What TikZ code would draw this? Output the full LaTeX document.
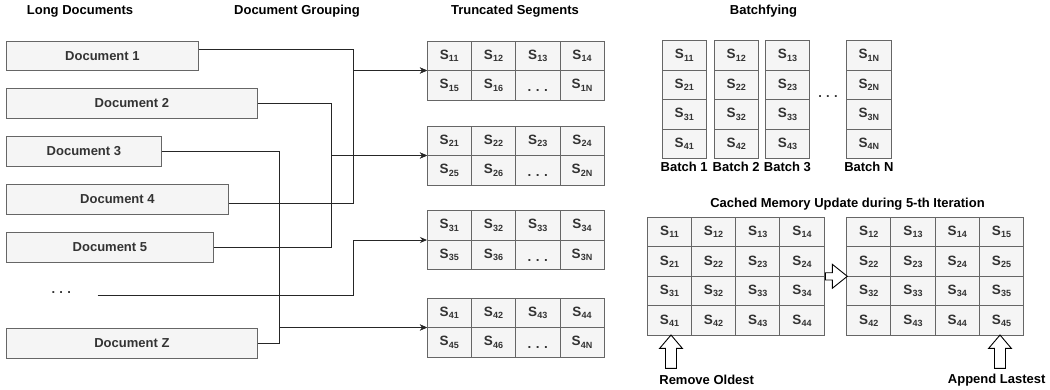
\documentclass[tikz,border=0pt]{standalone}
\usepackage{fontspec}
\setmainfont{Liberation Sans}
\usetikzlibrary{arrows.meta}
\definecolor{cfill}{HTML}{F5F5F5}
\definecolor{cdraw}{HTML}{666666}
\definecolor{ctext}{HTML}{333333}
\newcommand\sg[1]{S\kern0.2pt\raisebox{-2.4pt}{\fontsize{9}{9}\selectfont #1}}
\newcommand\celldots{\rule{0pt}{13pt}.\,\,.\,\,.}
\begin{document}
\begin{tikzpicture}[x=1pt,y=-1pt,
  doc/.style={draw=cdraw, fill=cfill, text=ctext, font=\fontsize{13}{15}\selectfont\bfseries, minimum height=29.6pt, inner sep=0, anchor=north west, line width=0.8pt},
  cell/.style={draw=cdraw, fill=cfill, text=ctext, font=\fontsize{13.5}{15}\selectfont\bfseries, minimum width=44.3pt, minimum height=29.5pt, inner sep=0, line width=0.8pt},
  title/.style={font=\fontsize{13}{15}\selectfont\bfseries, inner sep=0},
  conn/.style={draw=black!85, line width=0.9pt},
  arr/.style={conn, -{Stealth[length=7pt,width=6pt]}},
  hollow/.style={draw=black, fill=white, line width=0.9pt, line join=miter}
]
\useasboundingbox (0,0) rectangle (1050,389);

% titles
\node[title] (tLD) at (80,11) {Long Documents};
\node[title] (tDG) at (297,11) {Document Grouping};
\node[title] (tTS) at (515,11) {Truncated Segments};
\node[title] (tBF) at (763.5,11) {Batchfying};
\node[title] (tCM) at (847.5,204) {Cached Memory Update during 5-th Iteration};
\node[title] (tRO) at (706.7,380) {Remove Oldest};
\node[title] (tAL) at (996.7,380) {Append Lastest};

% documents
\node[doc, minimum width=192pt] (d1) at (6,40.7) {Document 1};
\node[doc, minimum width=251pt] (d2) at (6,88.3) {Document 2};
\node[doc, minimum width=155pt] (d3) at (6,136.3) {Document 3};
\node[doc, minimum width=222pt] (d4) at (6,184.3) {Document 4};
\node[doc, minimum width=207pt] (d5) at (6,232.3) {Document 5};
\node[font=\fontsize{13}{15}\selectfont\bfseries, text=ctext, minimum width=72pt, inner sep=0] (dd) at (61.3,293) {.\,\,.\,\,.};
\node[doc, minimum width=251pt] (dz) at (6,328.3) {Document Z};

% truncated segment tables
\foreach \k/\top in {1/41,2/126,3/210.5,4/298}{
  \coordinate (t\k w) at (427,\top+29.5);
}
\foreach \k/\top in {1/41,2/126,3/210.5,4/298}{
  \foreach \c in {1,2,3,4}{
    \pgfmathtruncatemacro{\a}{\c}
    \node[cell] (t\k-1-\c) at (449.15+44.3*\c-44.3,\top+14.75) {\sg{\k\a}};
  }
  \node[cell] (t\k-2-1) at (449.15,\top+44.25) {\sg{\k5}};
  \node[cell] (t\k-2-2) at (493.45,\top+44.25) {\sg{\k6}};
  \node[cell] (t\k-2-3) at (537.75,\top+44.25) {\celldots};
  \node[cell] (t\k-2-4) at (582.05,\top+44.25) {\sg{\k N}};
}

% connectors
\draw[arr] ([yshift=6.8pt]d1.east) -| ([xshift=-74pt]t1w) -- (t1w);
\draw[arr] ([yshift=-4pt]d4.east) -| ([xshift=-74pt]t1w) -- (t1w);
\draw[arr] (d2.east) -| ([xshift=-96pt]t2w) -- (t2w);
\draw[arr] (d5.east) -| ([xshift=-96pt]t2w) -- (t2w);
\draw[arr] ([yshift=-2pt]dd.east) -| ([xshift=-74pt]t3w) -- (t3w);
\draw[arr] (d3.east) -| ([xshift=-148pt]t4w) -- (t4w);
\draw[arr] (dz.east) -| ([xshift=-148pt]t4w) -- (t4w);

% batches
\foreach \c/\x/\lab in {1/662/1,2/714/2,3/765.3/3}{
  \foreach \r in {1,2,3,4}{
    \node[cell] (b\c-\r) at (\x+22.15,40.7+14.75+29.5*\r-29.5) {\sg{\r\c}};
  }
  \node[title] (bl\c) at (\x+22.15,166.7) {Batch \lab};
}
\foreach \r in {1,2,3,4}{
  \node[cell] (bN-\r) at (868.85,40.7+14.75+29.5*\r-29.5) {\sg{\r N}};
}
\node[title] (blN) at (868.85,166.7) {Batch N};
\node[font=\fontsize{13}{15}\selectfont\bfseries, text=ctext, inner sep=0] (bdots) at (828,97) {.\,\,.\,\,.};

% cached memory
\foreach \r in {1,2,3,4}{
  \foreach \c in {1,2,3,4}{
    \pgfmathtruncatemacro{\cc}{\c+1}
    \node[cell] (m\r-\c) at (647.3+22.1+44.2*\c-44.2,217.3+14.75+29.5*\r-29.5) {\sg{\r\c}};
    \node[cell] (n\r-\c) at (846.7+22.1+44.2*\c-44.2,217.3+14.75+29.5*\r-29.5) {\sg{\r\cc}};
  }
}

% hollow arrows
\draw[hollow] (825.3,272.7) -- (832.3,272.7) -- (832.3,264.3) -- (847.3,276.3) -- (832.3,288.3) -- (832.3,280) -- (825.3,280) -- cycle;
\foreach \cx in {671,1000}{
  \draw[hollow] (\cx,335) -- (\cx+11.3,348.3) -- (\cx+5.5,348.3) -- (\cx+5.5,368.3) -- (\cx-5.5,368.3) -- (\cx-5.5,348.3) -- (\cx-11.3,348.3) -- cycle;
}
\end{tikzpicture}
\end{document}
